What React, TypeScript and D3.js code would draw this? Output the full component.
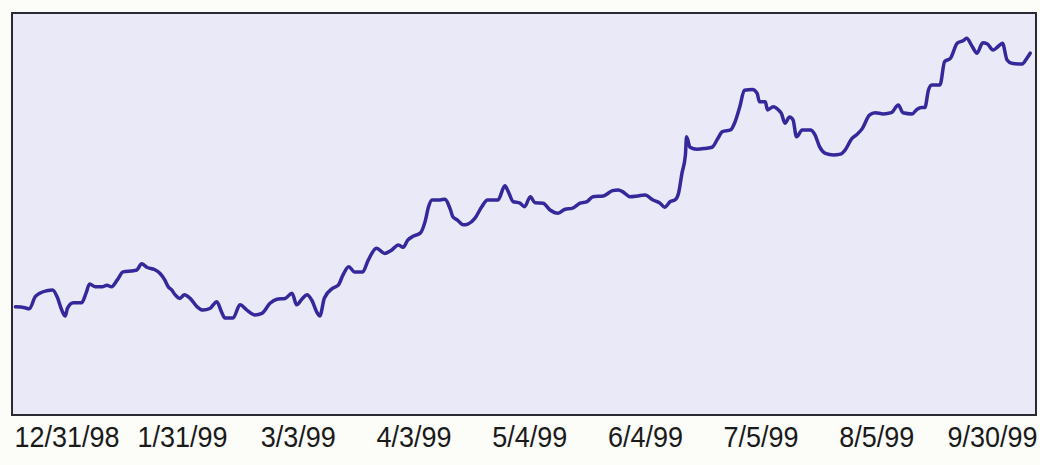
import React, { useRef, useEffect } from 'react';
import * as d3 from 'd3';

// x positions are in "label periods": 0 = 12/31/98, 1 = 1/31/99, ... 8 = 9/30/99
const tickLabels = ['12/31/98', '1/31/99', '3/3/99', '4/3/99', '5/4/99', '6/4/99', '7/5/99', '8/5/99', '9/30/99'];

const periods = [
  -0.44, -0.36, -0.32, -0.27, -0.23, -0.17, -0.12, -0.08, -0.04, -0.01,
  0.01, 0.06, 0.13, 0.17, 0.2, 0.25, 0.31, 0.35, 0.39, 0.44,
  0.49, 0.58, 0.61, 0.65, 0.7, 0.76, 0.81, 0.85, 0.88, 0.91,
  0.94, 0.98, 1.02, 1.07, 1.13, 1.18, 1.24, 1.3, 1.34, 1.37,
  1.44, 1.5, 1.56, 1.63, 1.69, 1.76, 1.82, 1.89, 1.95, 1.99,
  2.04, 2.08, 2.12, 2.17, 2.19, 2.23, 2.3, 2.35, 2.39, 2.44,
  2.49, 2.56, 2.61, 2.68, 2.75, 2.81, 2.87, 2.91, 2.95, 3.0,
  3.06, 3.1, 3.13, 3.16, 3.23, 3.27, 3.32, 3.34, 3.38, 3.43,
  3.47, 3.53, 3.59, 3.64, 3.73, 3.79, 3.82, 3.86, 3.92, 3.96,
  4.01, 4.05, 4.12, 4.18, 4.25, 4.31, 4.37, 4.44, 4.5, 4.55,
  4.64, 4.72, 4.77, 4.81, 4.87, 4.94, 5.0, 5.07, 5.13, 5.17,
  5.22, 5.26, 5.29, 5.32, 5.35, 5.36, 5.39, 5.45, 5.52, 5.58,
  5.63, 5.67, 5.74, 5.78, 5.82, 5.86, 5.93, 5.97, 5.99, 6.04,
  6.06, 6.11, 6.15, 6.18, 6.21, 6.25, 6.28, 6.31, 6.36, 6.43,
  6.47, 6.51, 6.56, 6.63, 6.69, 6.73, 6.79, 6.83, 6.88, 6.94,
  6.99, 7.06, 7.13, 7.19, 7.23, 7.31, 7.35, 7.39, 7.42, 7.45,
  7.48, 7.55, 7.59, 7.64, 7.7, 7.75, 7.78, 7.83, 7.87, 7.92,
  7.96, 8.01, 8.05, 8.09, 8.13, 8.17, 8.26, 8.3, 8.33,
];

const values = [
  86.9, 86.7, 86.4, 89.4, 90.3, 90.9, 91.1, 89.4, 86.1, 84.6,
  86.6, 87.9, 87.9, 90.3, 92.6, 91.9, 91.9, 92.3, 91.9, 93.6,
  95.6, 95.9, 96.1, 97.6, 96.7, 96.2, 95.2, 93.6, 91.9, 91.1,
  89.9, 89.0, 89.9, 89.0, 86.9, 86.1, 86.5, 88.2, 85.7, 84.1,
  84.1, 87.4, 86.1, 84.9, 85.3, 87.8, 88.8, 89.0, 90.3, 87.4,
  89.0, 89.9, 88.6, 85.3, 84.6, 89.1, 91.5, 92.3, 94.8, 96.9,
  95.6, 95.6, 98.6, 101.5, 100.2, 101.0, 102.3, 101.7, 103.5, 104.5,
  105.3, 108.1, 111.8, 113.5, 113.5, 113.7, 111.0, 109.3, 108.5, 107.3,
  107.5, 108.9, 111.8, 113.5, 113.5, 117.0, 115.5, 113.1, 112.7, 111.8,
  114.3, 112.8, 112.7, 111.0, 110.2, 111.2, 111.4, 112.7, 113.1, 114.3,
  114.5, 115.8, 116.0, 115.5, 114.3, 114.5, 114.7, 113.5, 112.7, 111.7,
  113.1, 113.5, 115.1, 120.1, 124.7, 129.2, 126.6, 126.1, 126.3, 126.6,
  128.8, 130.5, 130.9, 133.0, 136.7, 140.8, 141.0, 140.0, 137.9, 137.9,
  135.9, 136.7, 136.0, 135.0, 132.6, 134.1, 133.4, 129.2, 130.9, 130.9,
  129.7, 126.7, 125.1, 124.7, 124.9, 125.9, 128.8, 129.7, 131.3, 134.6,
  135.2, 134.9, 135.2, 137.1, 135.2, 134.9, 136.0, 136.5, 136.5, 140.8,
  142.1, 142.1, 147.9, 148.7, 152.5, 153.1, 153.7, 151.6, 150.0, 152.6,
  152.3, 150.8, 151.6, 152.5, 148.3, 147.5, 147.3, 148.7, 150.0,
];

const W = 1040;
const H = 465;

export default function App() {
  const ref = useRef<SVGSVGElement>(null);

  useEffect(() => {
    if (!ref.current) return;
    document.body.style.margin = '0';

    const svg = d3.select(ref.current);
    svg.selectAll('*').remove();

    const plot = { left: 12, right: 1036, top: 13, bottom: 415 };

    const x = d3.scaleLinear().domain([-0.47, 8.38]).range([plot.left, plot.right]);
    const y = d3.scaleLinear().domain([60, 160]).range([plot.bottom, plot.top]);

    svg.append('rect')
      .attr('width', W)
      .attr('height', H)
      .attr('fill', '#fcfcf8');

    // plot background
    svg.append('rect')
      .attr('x', plot.left)
      .attr('y', plot.top)
      .attr('width', plot.right - plot.left)
      .attr('height', plot.bottom - plot.top)
      .attr('fill', '#e9e9f8');

    const pts = periods.map((p, i) => [p, values[i]] as [number, number]);

    const line = d3.line<[number, number]>()
      .x(d => x(d[0]))
      .y(d => y(d[1]))
      .curve(d3.curveMonotoneX);

    svg.append('path')
      .datum(pts)
      .attr('d', line)
      .attr('fill', 'none')
      .attr('stroke', '#35289a')
      .attr('stroke-width', 3.5)
      .attr('stroke-linejoin', 'round')
      .attr('stroke-linecap', 'round');

    // frame
    svg.append('rect')
      .attr('x', plot.left)
      .attr('y', plot.top)
      .attr('width', plot.right - plot.left)
      .attr('height', plot.bottom - plot.top)
      .attr('fill', 'none')
      .attr('stroke', '#2a2a32')
      .attr('stroke-width', 2);

    // x axis labels, no tick marks
    const xAxis = d3.axisBottom(x)
      .tickValues(d3.range(tickLabels.length))
      .tickFormat((d) => tickLabels[d as number])
      .tickSize(0)
      .tickPadding(0);

    const axisG = svg.append('g')
      .attr('transform', `translate(0,${plot.bottom})`)
      .call(xAxis);

    axisG.select('.domain').remove();
    // condensed look: squeeze the glyphs horizontally around each tick
    axisG.selectAll('text')
      .attr('y', 32)
      .attr('dy', 0)
      .attr('transform', 'scale(0.9,1)')
      .style('font-family', '"Liberation Sans", Arial, sans-serif')
      .style('font-size', '30px')
      .style('fill', '#1a1a1a');
  }, []);

  return (
    <svg ref={ref} width={W} height={H} style={{ display: 'block' }}></svg>
  );
}
